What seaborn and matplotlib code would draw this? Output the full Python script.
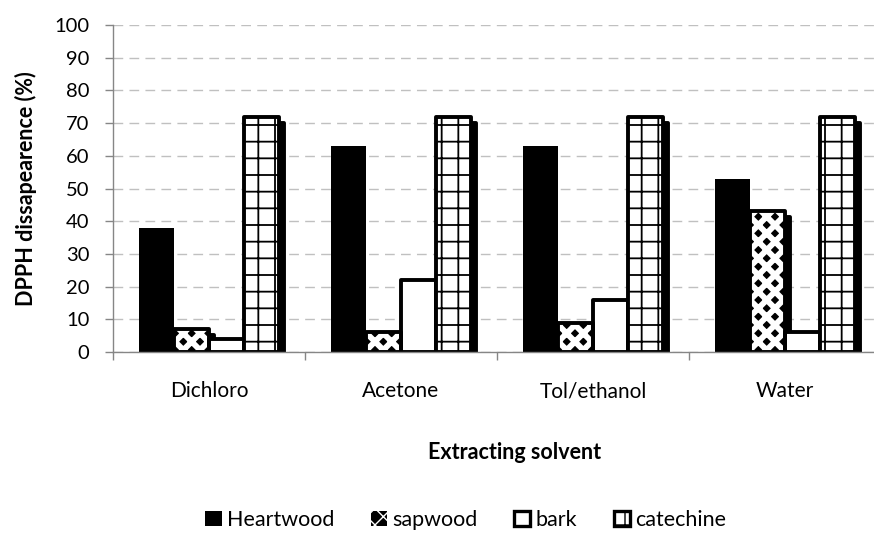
import matplotlib
matplotlib.use("Agg")
import matplotlib.pyplot as plt
import seaborn as sns
import pandas as pd
import numpy as np
from matplotlib.patches import Rectangle, Patch
from matplotlib.ticker import FixedLocator, MultipleLocator

# DPPH radical scavenging per extracting solvent
solvents = ["Dichloro", "Acetone", "Tol/ethanol", "Water"]
samples = ["Heartwood", "sapwood", "bark", "catechine"]
heartwood = [38, 63, 63, 53]
sapwood = [7, 6, 9, 43]
bark = [4, 22, 16, 6]
catechine = [72, 72, 72, 72]
y_ticks = list(range(0, 101, 10))

df = pd.DataFrame({
    "solvent": solvents * 4,
    "sample": np.repeat(samples, len(solvents)),
    "value": heartwood + sapwood + bark + catechine,
})

sns.set_theme(style="white")
plt.rcParams["font.family"] = ["Lato", "DejaVu Sans"]
plt.rcParams["text.color"] = "black"
plt.rcParams["axes.labelcolor"] = "black"
plt.rcParams["xtick.color"] = "#868686"
plt.rcParams["ytick.color"] = "#868686"
plt.rcParams["xtick.labelcolor"] = "black"
plt.rcParams["ytick.labelcolor"] = "black"

W, H = 874, 535
fig = plt.figure(figsize=(W / 100, H / 100), dpi=100)
ax_left, ax_bottom, ax_w, ax_h = 113, 352, 768, 327
ax = fig.add_axes([ax_left / W, 1 - ax_bottom / H, ax_w / W, ax_h / H])

sns.barplot(data=df, x="solvent", y="value", hue="sample",
            order=solvents, hue_order=samples,
            palette=["black"] * 4, width=0.73, gap=0,
            errorbar=None, legend=False, saturation=1, ax=ax)

ax.set_xlim(-0.5, 3.5)
ax.set_ylim(0, 100)

OUTLINE = 2.8
px_x = (ax.get_xlim()[1] - ax.get_xlim()[0]) / ax_w
px_y = (ax.get_ylim()[1] - ax.get_ylim()[0]) / ax_h
shadow_dx, shadow_dy = 5 * px_x, 6 * px_y


def hatch_lw(patch, lw):
    if hasattr(patch, "set_hatch_linewidth"):
        patch.set_hatch_linewidth(lw)


for level, container in zip(samples, ax.containers):
    for bar in container:
        x, y, w, h = bar.get_x(), bar.get_y(), bar.get_width(), bar.get_height()
        bar.set_zorder(2)
        if level != "Heartwood":
            # drop shadow behind the outlined bars
            ax.add_patch(Rectangle((x + shadow_dx, y - shadow_dy), w, h,
                                   facecolor="black", edgecolor="black",
                                   linewidth=OUTLINE, joinstyle="round",
                                   zorder=1.5))
        if level == "Heartwood":
            bar.set_facecolor("black")
            bar.set_edgecolor("black")
            bar.set_linewidth(0)
        elif level == "sapwood":
            bar.set_facecolor("black")
            bar.set_edgecolor("white")
            bar.set_linewidth(0)
            bar.set_hatch("xx")
            hatch_lw(bar, 4.2)
            ax.add_patch(Rectangle((x, y), w, h, fill=False,
                                   edgecolor="black", linewidth=OUTLINE,
                                   joinstyle="round", zorder=2.1))
        elif level == "bark":
            bar.set_facecolor("white")
            bar.set_edgecolor("black")
            bar.set_linewidth(OUTLINE)
            bar.set_joinstyle("round")
        else:
            bar.set_facecolor("white")
            bar.set_edgecolor("black")
            bar.set_linewidth(OUTLINE)
            bar.set_joinstyle("round")
            bar.set_hatch("+")
            hatch_lw(bar, 1.3)

# axes styling
sns.despine(ax=ax, top=True, right=True)
for side in ("left", "bottom"):
    ax.spines[side].set_color("#868686")
    ax.spines[side].set_linewidth(1)

ax.yaxis.set_major_locator(FixedLocator(y_ticks))
ax.tick_params(axis="y", which="major", direction="out", length=6, width=1,
               pad=11, labelsize=14.5, left=True)
ax.yaxis.grid(True, color="#c0c0c0", linewidth=1, linestyle=(0, (7, 4.5)))
ax.xaxis.grid(False)
ax.set_axisbelow(True)

ax.xaxis.set_minor_locator(MultipleLocator(1, offset=0.5))
ax.tick_params(axis="x", which="major", length=0, pad=21, labelsize=15)
ax.tick_params(axis="x", which="minor", direction="out", length=6, width=1,
               bottom=True)

ax.set_ylabel("DPPH dissapearence (%)", fontsize=15.5, fontweight="bold")
ax.yaxis.set_label_coords((37 - ax_left) / ax_w, 0.5)
ax.set_xlabel("Extracting solvent", fontsize=15.5, fontweight="bold", va="top")
ax.xaxis.set_label_coords((515 - ax_left) / ax_w, (ax_bottom - 442) / ax_h)

# legend
handles = [
    Patch(facecolor="black", edgecolor="black", linewidth=0),
    Patch(facecolor="black", edgecolor="white", linewidth=0, hatch="xx"),
    Patch(facecolor="white", edgecolor="black", linewidth=2.4),
    Patch(facecolor="white", edgecolor="black", linewidth=2.4, hatch="+"),
]
hatch_lw(handles[1], 3.0)
hatch_lw(handles[3], 1.3)
fig.legend(handles, samples, loc="center",
           bbox_to_anchor=(466 / W, 1 - 520 / H), ncol=4, frameon=False,
           handlelength=0.75, handleheight=0.75, handletextpad=0.25,
           columnspacing=1.7, fontsize=15.5)

fig.savefig("out.png", dpi=100)
